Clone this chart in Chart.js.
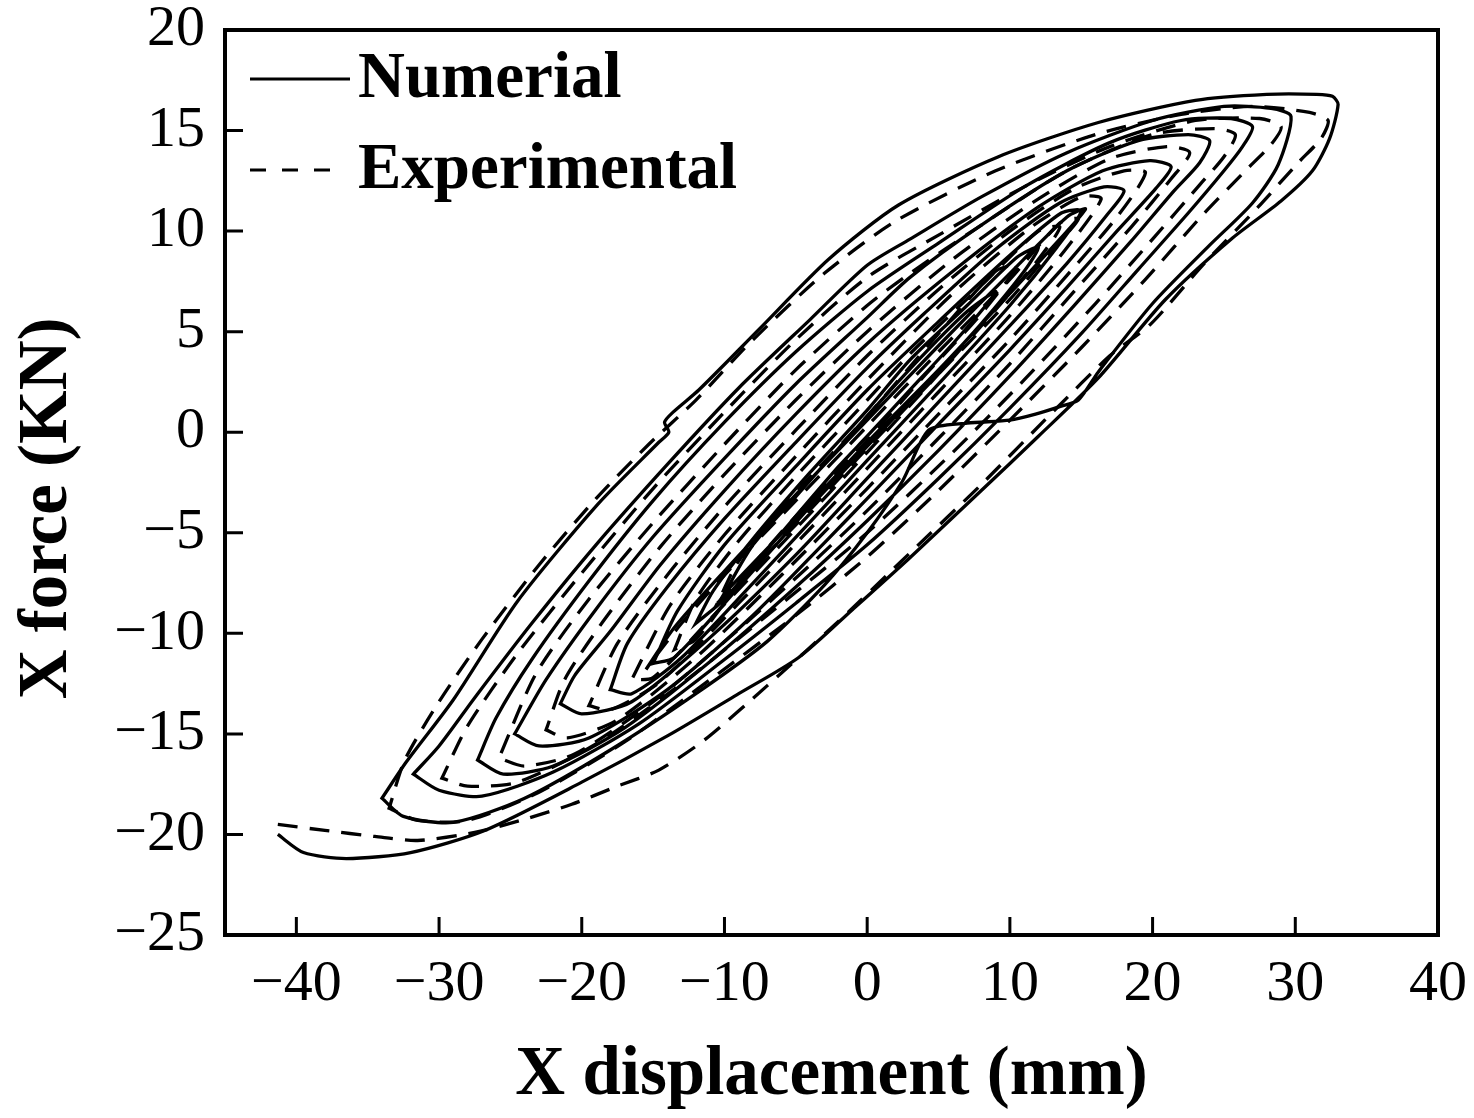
<!DOCTYPE html>
<html>
<head>
<meta charset="utf-8">
<script src="https://cdn.jsdelivr.net/npm/chart.js@4.4.1/dist/chart.umd.min.js"></script>
<style>
  html, body { margin: 0; padding: 0; background: #fff; }
</style>
</head>
<body>
<canvas id="loopChart" width="1474" height="1118"></canvas>
<script>
// axis ticks
const xTicks = [-40, -30, -20, -10, 0, 10, 20, 30, 40];
const yTicks = [-25, -20, -15, -10, -5, 0, 5, 10, 15, 20];
const seriesLabels = ['Numerial', 'Experimental'];

// numerical loops: [displacement mm, force kN], lower branch then upper branch
const numCycle1 = [
  [-41.3,-20.0],[-39.5,-20.9],[-36.5,-21.2],[-32,-20.9],[-26.8,-19.8],[-20,-17.4],[-14,-15.1],[-9,-13],[-4.8,-11.2],[-1,-8.8],
  [2.9,-6.3],[8,-2.9],[12,-0.2],[16.2,2.7],[20.9,6.6],[25.5,9.6],[29,11.5],[31.2,13],[32.4,14.6],[33,16.3],
  [32.6,16.7],[31.5,16.8],[28,16.8],[23,16.5],[16.2,15.4],[9.2,13.7],[2.2,11.3],[-2.7,8.6],[-7.6,5.1],[-11.8,2.1],
  [-13.6,1.0],[-14.2,0.5],[-13.9,0],[-14.6,-0.5],[-18.9,-3.6],[-24.5,-8.4],[-29,-13.3],[-32.3,-16.4],[-34,-18.2]
];
const numCycle2 = [
  [-34,-18.2],[-32.5,-19.1],[-29,-19.4],[-24,-18.2],[-18,-15.8],[-12,-13.0],[-7,-10.4],[-3,-7.6],[0,-5.0],[2.5,-2.4],
  [4.3,0.1],[7,0.45],[10,0.6],[11.8,0.9],[13.6,1.3],[14.8,1.6],[16.2,3.0],[20,6.4],[24,9.3],[27,11.4],[28.8,13.3],[29.7,15.7],
  [28.3,16.1],[25,16.2],[20,15.5],[14,13.9],[8,11.7],[3,9.6],[0,8.3],[-4,5.6],[-9,2.2],[-14,-1.6],[-19,-5.6],
  [-23.5,-9.5],[-27.5,-13.2],[-30,-15.6],[-31.8,-17]
];
const numCycle3 = [
  [-31.8,-17],[-30,-17.8],[-27,-18.1],[-22,-16.9],[-16,-14.5],[-10,-11.3],[-5,-8.5],[0,-5.6],[5,-2.3],[10,1.2],
  [15,4.9],[19,8.1],[22.5,10.9],[25,13.0],[26.3,14.2],[27,15.2],
  [25.5,15.6],[22,15.5],[17,14.4],[11,12.2],[5,9.4],[0,7.0],[-5,4.0],[-10,0.5],[-15,-3.4],[-19.5,-7.4],
  [-23.5,-11.3],[-26,-14.2],[-27.3,-16.3]
];
const numCycle4 = [
  [-27.3,-16.3],[-25.5,-17],[-22,-16.6],[-17,-14.7],[-11,-11.4],[-5,-7.7],[0,-4.4],[5,-0.9],[10,2.8],[14.5,6.3],
  [18.5,9.5],[21.5,12.0],[23.3,13.4],[24,14.5],
  [22.5,14.8],[19,14.5],[14,13],[8,10.3],[3,7.7],[0,5.7],[-5,2.4],[-10,-1.3],[-15,-5.2],[-19,-8.8],[-22.5,-12.3],[-24.7,-15]
];
const numCycle5 = [
  [-24.7,-15],[-23,-15.6],[-19.5,-15.2],[-14,-12.8],[-8,-9.1],[-3,-5.5],[0,-3.3],[5,0.4],[10,4.1],[14,7.2],
  [17.5,10],[20.2,12.1],[21.3,13.2],
  [19.8,13.5],[16.5,13],[12,11.2],[6,8],[0,4.4],[-5,0.9],[-10,-2.9],[-14.5,-6.6],[-18,-9.9],[-20.5,-12.1],[-21.5,-13.5]
];
const numCycle6 = [
  [-21.5,-13.5],[-20,-14],[-16.5,-13.4],[-11,-10.2],[-5,-6.1],[0,-2.3],[5,1.5],[10,5.3],[14,8.4],[16.8,10.8],[18,12],
  [16.6,12.2],[13.5,11.4],[9,9.1],[4,5.9],[0,3.2],[-5,-0.5],[-10,-4.3],[-14,-7.7],[-16.8,-10.5],[-18,-12.8]
];
const numCycle7 = [
  [-18,-12.8],[-16.5,-13],[-13,-11.2],[-8,-7.5],[-3,-3.7],[0,-1.4],[5,2.4],[10,6.3],[13.3,9.2],[15,11],
  [13.6,10.9],[10,8.8],[5,5.5],[0,2.1],[-5,-1.7],[-10,-5.6],[-13.3,-8.9],[-15,-11.5]
];
const numCycle8 = [
  [-15,-11.5],[-13.5,-11.2],[-9,-7.7],[-4,-3.7],[0,-0.7],[4,2.3],[8,5.4],[11,8],[12,9.2],
  [10.5,8.7],[7,6.3],[3,3.6],[0,1.1],[-4,-2],[-8,-5.3],[-10.8,-7.9],[-12,-9.5]
];
const numCycle9 = [
  [-12,-9.5],[-10,-8.3],[-6,-5],[-2,-1.7],[0,-0.2],[3,2.1],[6,4.4],[8.2,6.2],[9,7],
  [7,6],[4,3.9],[1,1.6],[-2,-0.8],[-5,-3.2],[-8,-5.6],[-10,-8]
];
const numCycle10 = [
  [-10,-8],[-5,-4.3],[0,-0.5],[5,3.1],[10,6.9],[13.5,9.6],[15.3,11.1],
  [14,10.7],[10,7.9],[5,4.3],[0,0.6],[-5,-3.1],[-10,-6.9],[-13.5,-9.7],[-15.5,-11.8]
];

// experimental loops
const expCycle1 = [
  [-41.3,-19.5],[-38,-19.8],[-34.5,-20.1],[-31.5,-20.3],[-27.5,-19.9],[-23.8,-19.2],[-20.7,-18.5],[-17.5,-17.6],[-14.6,-16.8],
  [-11.4,-15.3],[-7,-12.6],[-2,-9.4],[3,-6],[8,-2.6],[13,1],[17,3.8],[19.9,5.4],[23.5,8.3],[27.4,11.2],[30.2,13.4],[31.8,14.6],[32.3,15.5],
  [31,15.9],[27,16.2],[22,15.8],[16,14.8],[9,13],[2,10.5],[-3,7.9],[-8,4.6],[-12,1.6],[-15.3,-0.6],[-19,-3.3],
  [-23,-6.6],[-27,-10.3],[-30,-13.4],[-32.4,-16.3],[-33.5,-18.7]
];
const expCycle2 = [
  [-33.5,-18.7],[-31.5,-19.3],[-28,-19.3],[-23,-17.9],[-17,-15.4],[-11,-12.3],[-5,-9.1],[0,-6.2],[5,-2.9],[10,0.6],
  [15,4.2],[19.5,7.6],[23.5,10.8],[26.5,13],[28.3,14.3],[29,15.2],
  [27.5,15.6],[23,15.5],[17,14.2],[11,12.2],[5,9.8],[0,7.7],[-5,4.6],[-10,1],[-15,-2.8],[-20,-7],[-24.5,-11],
  [-28,-14.6],[-29.8,-17.2]
];
const expCycle3 = [
  [-29.8,-17.2],[-28,-17.6],[-24.5,-17.4],[-19,-15.5],[-13,-12.5],[-7,-9.1],[0,-5],[6,-1],[11,2.6],[16,6.4],
  [20,9.6],[23.3,12.3],[25,13.7],[25.8,14.8],
  [24.3,15.1],[20,14.8],[14,13],[8,10.3],[3,7.9],[0,6.3],[-5,3.1],[-10,-0.6],[-15,-4.5],[-19.5,-8.3],[-23.2,-12],[-25.8,-16.2]
];
const expCycle4 = [
  [-25.8,-16.2],[-24,-16.6],[-20.5,-16],[-15,-13.4],[-9,-9.8],[-4,-6.6],[0,-3.9],[5,-0.3],[10,3.4],[14.5,7],
  [18.5,10.2],[21.3,12.6],[22.6,13.9],
  [21,14.2],[17,13.6],[12,11.6],[6,8.6],[0,5],[-5,1.6],[-10,-2.1],[-14.5,-5.7],[-18.5,-9.4],[-21.2,-12.3],[-22.5,-14.8]
];
const expCycle5 = [
  [-22.5,-14.8],[-21,-15.2],[-17.5,-14.3],[-12,-11.2],[-6,-7.1],[0,-2.8],[5,0.9],[10,4.6],[14,7.8],[17.5,10.7],[19.5,12.9],
  [18,13],[14.5,12.1],[10,10],[5,7.1],[0,3.8],[-5,0.1],[-10,-3.7],[-14,-7.1],[-17.5,-10.5],[-19.5,-13.6]
];
const expCycle6 = [
  [-19.5,-13.6],[-18,-13.8],[-14.5,-12.4],[-9,-8.5],[-4,-4.8],[0,-1.8],[5,2],[10,5.8],[13.8,9],[16.4,11.6],
  [15,11.7],[11.5,10.2],[6,6.9],[0,2.6],[-5,-1.2],[-10,-5.1],[-13.8,-8.6],[-16.5,-12.3]
];
const expCycle7 = [
  [-16.5,-12.3],[-15,-12.2],[-11,-9.3],[-5,-4.8],[0,-1],[5,2.9],[9,6.1],[12,8.6],[13.5,10.2],
  [12,10],[8,7.3],[3,3.9],[0,1.6],[-5,-2.2],[-9,-5.4],[-12,-8.3],[-13.5,-10.8]
];
const expCycle8 = [
  [-13.5,-10.8],[-12,-10.3],[-8,-6.6],[-3,-2.6],[0,-0.4],[4,2.8],[8,5.9],[10.5,8.3],
  [9,8],[5,4.9],[0,0.8],[-5,-3],[-9,-6.4],[-10.5,-8.5]
];
const expCycle9 = [
  [-10.5,-8.5],[-5,-4.6],[0,-0.8],[5,2.9],[10,6.6],[13,9.1],[14.8,10.6],
  [13.5,10.4],[10,7.6],[5,4],[0,0.3],[-5,-3.4],[-10,-7.1],[-13,-9.5],[-15,-11.3]
];

const numerical = [].concat(numCycle1, numCycle2, numCycle3, numCycle4, numCycle5,
  numCycle6, numCycle7, numCycle8, numCycle9, numCycle10);
const experimental = [].concat(expCycle1, expCycle2, expCycle3, expCycle4, expCycle5,
  expCycle6, expCycle7, expCycle8, expCycle9);

const toPoints = arr => arr.map(p => ({x: p[0], y: p[1]}));
const fmt = v => String(v).replace('-', '\u2212');

// box round the plot and inward tick marks
const frameTicks = {
  id: 'frameTicks',
  afterDraw(chart) {
    const {ctx, chartArea: a, scales: {x, y}} = chart;
    ctx.save();
    ctx.strokeStyle = '#000';
    ctx.lineWidth = 4;
    ctx.strokeRect(a.left, a.top, a.right - a.left, a.bottom - a.top);
    ctx.lineWidth = 3;
    ctx.beginPath();
    x.ticks.forEach(t => {
      const px = x.getPixelForValue(t.value);
      ctx.moveTo(px, a.bottom);
      ctx.lineTo(px, a.bottom - 18);
    });
    y.ticks.forEach(t => {
      const py = y.getPixelForValue(t.value);
      ctx.moveTo(a.left, py);
      ctx.lineTo(a.left + 18, py);
    });
    ctx.stroke();
    ctx.restore();
  }
};

// legend drawn inside the top-left corner
const legendBox = {
  id: 'legendBox',
  afterDraw(chart) {
    const {ctx, chartArea: a} = chart;
    ctx.save();
    ctx.font = 'bold 65px "Liberation Serif"';
    ctx.fillStyle = '#000';
    ctx.textBaseline = 'alphabetic';
    chart.data.datasets.forEach((ds, i) => {
      const yLine = a.top + 49 + i * 91;
      ctx.strokeStyle = ds.borderColor;
      ctx.lineWidth = 3;
      ctx.setLineDash(i === 0 ? [] : [16, 16]);
      ctx.beginPath();
      ctx.moveTo(a.left + 25, yLine);
      ctx.lineTo(a.left + (i === 0 ? 125 : 106), yLine);
      ctx.stroke();
      ctx.setLineDash([]);
      ctx.fillText(ds.label, a.left + 133, yLine + 18);
    });
    ctx.restore();
  }
};

const ctx = document.getElementById('loopChart').getContext('2d');
new Chart(ctx, {
  type: 'scatter',
  data: {
    datasets: [{
      label: seriesLabels[0],
      data: toPoints(numerical),
      showLine: true,
      borderColor: '#000',
      borderWidth: 3.3,
      pointRadius: 0,
      tension: 0.25
    }, {
      label: seriesLabels[1],
      data: toPoints(experimental),
      showLine: true,
      borderColor: '#000',
      borderWidth: 3.3,
      borderDash: [20, 12],
      pointRadius: 0,
      tension: 0.25
    }]
  },
  options: {
    responsive: false,
    animation: false,
    devicePixelRatio: 1,
    layout: { padding: { top: 30, right: 36, left: 0, bottom: 0 } },
    plugins: { legend: { display: false }, tooltip: { enabled: false } },
    scales: {
      x: {
        type: 'linear', min: -45, max: 40,
        grid: { display: false, drawTicks: false },
        border: { display: false },
        afterBuildTicks: s => { s.ticks = xTicks.map(v => ({value: v})); },
        afterFit: s => { s.height = 183; s.paddingLeft = 0; s.paddingRight = 0; },
        ticks: {
          padding: 15, autoSkip: false, maxRotation: 0, color: '#000',
          font: { family: 'Liberation Serif', size: 58 },
          callback: v => fmt(v)
        },
        title: {
          display: true, text: 'X displacement (mm)', color: '#000',
          font: { family: 'Liberation Serif', size: 69, weight: 'bold' },
          padding: { top: 0, bottom: 0 }
        }
      },
      y: {
        type: 'linear', min: -25, max: 20,
        grid: { display: false, drawTicks: false },
        border: { display: false },
        afterBuildTicks: s => { s.ticks = yTicks.map(v => ({value: v})); },
        afterFit: s => { s.width = 225; s.paddingTop = 0; s.paddingBottom = 0; },
        ticks: {
          padding: 20, autoSkip: false, color: '#000',
          font: { family: 'Liberation Serif', size: 58 },
          callback: v => fmt(v)
        },
        title: {
          display: true, text: 'X force (KN)   ', color: '#000',
          font: { family: 'Liberation Serif', size: 69, weight: 'bold' },
          padding: { top: 7, bottom: 0 }
        }
      }
    }
  },
  plugins: [frameTicks, legendBox]
});
</script>
</body>
</html>
